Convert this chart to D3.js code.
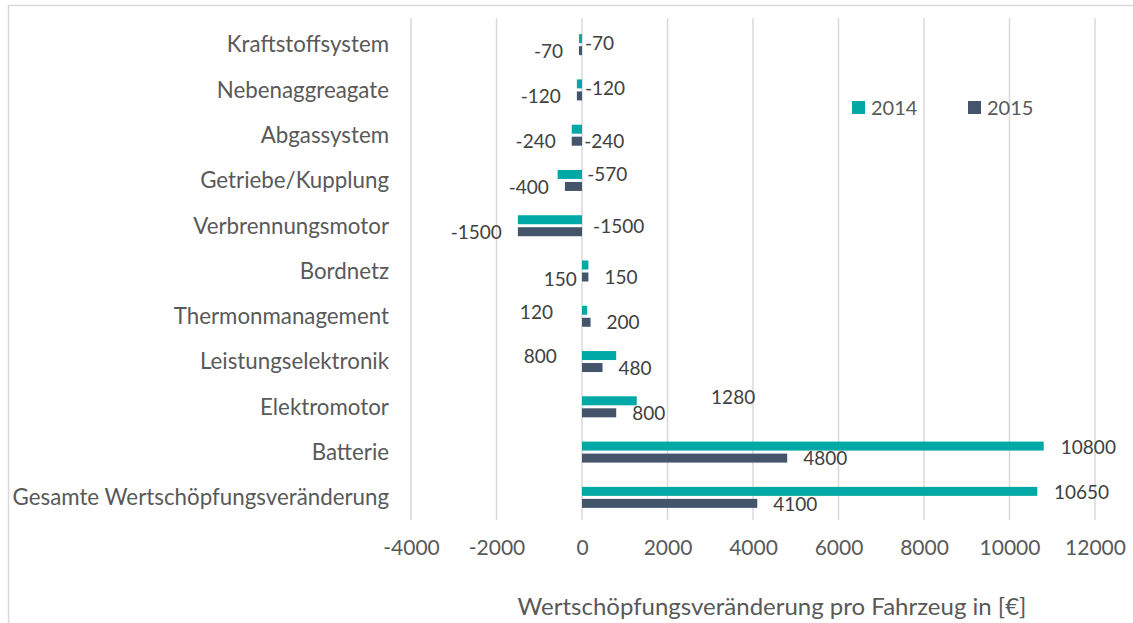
<!DOCTYPE html>
<html>
<head>
<meta charset="utf-8">
<script src="https://cdn.jsdelivr.net/npm/d3@7"></script>
<style>
  body { margin: 0; background: #fff; }
  svg { display: block; font-family: Lato, 'Open Sans', sans-serif; }
</style>
</head>
<body>
<div id="chart"></div>
<script>
const WIDTH = 1133;
const HEIGHT = 623;

const categories = [
  'Kraftstoffsystem',
  'Nebenaggreagate',
  'Abgassystem',
  'Getriebe/Kupplung',
  'Verbrennungsmotor',
  'Bordnetz',
  'Thermonmanagement',
  'Leistungselektronik',
  'Elektromotor',
  'Batterie',
  'Gesamte Wertschöpfungsveränderung'
];

const values2014 = [-70, -120, -240, -570, -1500, 150, 120, 800, 1280, 10800, 10650];
const values2015 = [-70, -120, -240, -400, -1500, 150, 200, 480, 800, 4800, 4100];

// where the 2014 labels were dragged to in the original (axis units)
const labelAt2014 = [70, 70, 50, 120, 260, -120, -680, -590, 3020, 11200, 11040];

const xTicks = [-4000, -2000, 0, 2000, 4000, 6000, 8000, 10000, 12000];
const seriesNames = ['2014', '2015'];
const colours = {'2014': '#00A9A6', '2015': '#44546A'};

const textGrey = '#595959';
const labelGrey = '#404040';
const gridGrey = '#D9D9D9';

function translate(x, y) {
  return `translate(${x}, ${y})`;
}

const svg = d3.select('#chart').append('svg')
  .attr('width', WIDTH)
  .attr('height', HEIGHT);

// chart area border
svg.append('path')
  .attr('d', `M8.5,${HEIGHT} V5.5 H${WIDTH}`)
  .attr('fill', 'none')
  .attr('stroke', gridGrey)
  .attr('stroke-width', 1.5);

const plot = {left: 411, right: 1095, top: 22, bottom: 520};

const x = d3.scaleLinear()
  .domain([-4000, 12000])
  .range([plot.left, plot.right]);

const y = d3.scaleBand()
  .domain(categories)
  .range([plot.top, plot.bottom]);

// gridlines
svg.append('g')
  .selectAll('line')
  .data(xTicks)
  .join('line')
  .attr('x1', d => x(d))
  .attr('x2', d => x(d))
  .attr('y1', plot.top - 4)
  .attr('y2', plot.bottom)
  .attr('stroke', gridGrey)
  .attr('stroke-width', 1.5);

// x axis labels
const xAxis = svg.append('g')
  .attr('transform', translate(0, 548))
  .call(d3.axisBottom(x).tickValues(xTicks).tickFormat(d => String(d)).tickSize(0).tickPadding(0));
xAxis.select('.domain').remove();
xAxis.selectAll('text')
  .attr('dy', '0.35em')
  .attr('fill', textGrey)
  .attr('font-size', 21)
  .attr('font-family', 'Lato, sans-serif');

// category labels
const yAxis = svg.append('g')
  .attr('transform', translate(389, 0))
  .call(d3.axisLeft(y).tickSize(0).tickPadding(0));
yAxis.select('.domain').remove();
yAxis.selectAll('text')
  .attr('dy', '0.35em')
  .attr('fill', textGrey)
  .attr('font-size', 22.3)
  .attr('font-family', 'Lato, sans-serif');

// bars
const barH = 9;
const rows = categories.map((c, i) => ({cat: c, v14: values2014[i], v15: values2015[i], at14: labelAt2014[i]}));
const mid = d => y(d.cat) + y.bandwidth() / 2;

svg.append('g')
  .selectAll('rect')
  .data(rows)
  .join('rect')
  .attr('x', d => x(Math.min(0, d.v14)))
  .attr('width', d => Math.abs(x(d.v14) - x(0)))
  .attr('y', d => mid(d) - 10.5)
  .attr('height', barH)
  .attr('fill', colours['2014']);

svg.append('g')
  .selectAll('rect')
  .data(rows)
  .join('rect')
  .attr('x', d => x(Math.min(0, d.v15)))
  .attr('width', d => Math.abs(x(d.v15) - x(0)))
  .attr('y', d => mid(d) + 1.5)
  .attr('height', barH)
  .attr('fill', colours['2015']);

// data labels 2014 (manually placed in the source)
const dy14 = [-1, -2, 6, -6, 1, 8, -4, -5, -9, -5, -5];
svg.append('g')
  .selectAll('text')
  .data(rows)
  .join('text')
  .attr('x', d => x(d.at14))
  .attr('y', (d, i) => mid(d) + dy14[i])
  .attr('dy', '0.35em')
  .attr('text-anchor', d => d.at14 < 0 ? 'end' : 'start')
  .attr('font-size', 19)
  .attr('fill', labelGrey)
  .text(d => d.v14);

// data labels 2015, just past the bar end
svg.append('g')
  .selectAll('text')
  .data(rows)
  .join('text')
  .attr('x', d => x(d.v15) + (d.v15 < 0 ? -16 : 16))
  .attr('y', d => mid(d) + 6.5)
  .attr('dy', '0.35em')
  .attr('text-anchor', d => d.v15 < 0 ? 'end' : 'start')
  .attr('font-size', 19)
  .attr('fill', labelGrey)
  .text(d => d.v15);

// legend
const legend = svg.append('g')
  .selectAll('g')
  .data(seriesNames)
  .join('g')
  .attr('transform', (d, i) => translate(852 + i * 116, 101));
legend.append('rect')
  .attr('width', 13)
  .attr('height', 13)
  .attr('fill', d => colours[d]);
legend.append('text')
  .attr('x', 19)
  .attr('y', 7)
  .attr('dy', '0.35em')
  .attr('font-size', 20)
  .attr('fill', textGrey)
  .text(d => d);

// axis title
svg.append('text')
  .attr('x', 772)
  .attr('y', 607)
  .attr('dy', '0.35em')
  .attr('text-anchor', 'middle')
  .attr('font-size', 24)
  .attr('fill', textGrey)
  .text('Wertschöpfungsveränderung pro Fahrzeug in [€]');
</script>
</body>
</html>
